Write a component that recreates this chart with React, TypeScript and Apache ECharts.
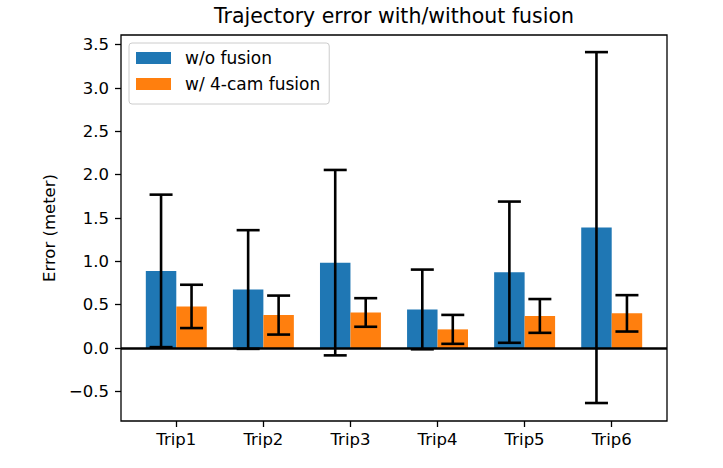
import React, { useEffect, useRef } from "react";
import * as echarts from "echarts";

const categories = ["Trip1", "Trip2", "Trip3", "Trip4", "Trip5", "Trip6"];
const woFusionMean = [0.89, 0.675, 0.985, 0.445, 0.875, 1.39];
const woFusionErr = [0.88, 0.685, 1.07, 0.46, 0.815, 2.025];
const fusionMean = [0.48, 0.38, 0.41, 0.215, 0.37, 0.4];
const fusionErr = [0.25, 0.225, 0.165, 0.167, 0.195, 0.21];
const yTicks = [-0.5, 0, 0.5, 1, 1.5, 2, 2.5, 3, 3.5];
const seriesNames = ["w/o fusion", "w/ 4-cam fusion"];

const BAR_W = 0.35;
const FONT = "DejaVu Sans";

export default function App() {
  const ref = useRef<HTMLDivElement>(null);
  useEffect(() => {
    if (!ref.current) return;
    const chart = echarts.init(ref.current, undefined, { renderer: "svg" });
    const xs = categories.map((_, i) => i);

    const barItem = (color: string) => (params: any, api: any) => {
      const x = api.value(0);
      const y = api.value(1);
      const p0 = api.coord([x - BAR_W / 2, y]);
      const p1 = api.coord([x + BAR_W / 2, 0]);
      return {
        type: "rect",
        shape: {
          x: p0[0],
          y: Math.min(p0[1], p1[1]),
          width: p1[0] - p0[0],
          height: Math.abs(p1[1] - p0[1]),
        },
        style: { fill: color },
      };
    };

    const errItem = (params: any, api: any) => {
      const x = api.value(0);
      const m = api.value(1);
      const e = api.value(2);
      const top = api.coord([x, m + e]);
      const bot = api.coord([x, m - e]);
      const cap = 11.5;
      const st = { stroke: "#000", lineWidth: 2.6 };
      return {
        type: "group",
        children: [
          { type: "line", shape: { x1: top[0], y1: top[1], x2: bot[0], y2: bot[1] }, style: st },
          { type: "line", shape: { x1: top[0] - cap, y1: top[1], x2: top[0] + cap, y2: top[1] }, style: st },
          { type: "line", shape: { x1: bot[0] - cap, y1: bot[1], x2: bot[0] + cap, y2: bot[1] }, style: st },
        ],
      };
    };

    const blueData = xs.map((i) => [i - BAR_W / 2, woFusionMean[i], woFusionErr[i]]);
    const orangeData = xs.map((i) => [i + BAR_W / 2, fusionMean[i], fusionErr[i]]);

    chart.setOption({
      animation: false,
      textStyle: { fontFamily: FONT },
      title: {
        text: "Trajectory error with/without fusion",
        left: 394,
        top: 5,
        textAlign: "center",
        padding: 0,
        textStyle: { fontFamily: FONT, fontSize: 20.5, fontWeight: "normal", color: "#000" },
      },
      legend: {
        orient: "vertical",
        left: 129,
        top: 43,
        data: seriesNames,
        icon: "rect",
        itemWidth: 35,
        itemHeight: 12,
        itemGap: 8,
        padding: [6, 9, 11, 7],
        borderColor: "#cccccc",
        borderWidth: 1,
        borderRadius: 3,
        backgroundColor: "rgba(255,255,255,0.8)",
        textStyle: { fontFamily: FONT, fontSize: 17, color: "#000", padding: [0, 0, 0, 9], lineHeight: 18 },
      },
      grid: {
        left: 121,
        top: 35,
        width: 546,
        height: 386,
        show: true,
        borderColor: "#000",
        borderWidth: 1.3,
        backgroundColor: "transparent",
      },
      xAxis: {
        type: "value",
        min: -0.635,
        max: 5.635,
        splitLine: { show: false },
        axisLine: { show: false, onZero: false },
        axisTick: { show: true, length: 6, customValues: xs, lineStyle: { color: "#000", width: 1.3 } },
        axisLabel: {
          customValues: xs,
          formatter: (v: number) => categories[Math.round(v)] ?? "",
          fontFamily: FONT,
          fontSize: 16.5,
          color: "#000",
          margin: 10,
        },
      },
      yAxis: {
        type: "value",
        min: -0.8425,
        max: 3.6125,
        name: "Error (meter)",
        nameLocation: "middle",
        nameGap: 60,
        nameTextStyle: { fontFamily: FONT, fontSize: 16.5, color: "#000" },
        splitLine: { show: false },
        axisLine: { show: false, onZero: false },
        axisTick: { show: true, length: 6, customValues: yTicks, lineStyle: { color: "#000", width: 1.3 } },
        axisLabel: {
          customValues: yTicks,
          formatter: (v: number) => (v < 0 ? "\u2212" + Math.abs(v).toFixed(1) : v.toFixed(1)),
          fontFamily: FONT,
          fontSize: 16.5,
          color: "#000",
          margin: 12,
        },
      },
      series: [
        {
          name: seriesNames[0],
          type: "custom",
          renderItem: barItem("#1f77b4"),
          itemStyle: { color: "#1f77b4" },
          data: blueData,
          encode: { x: 0, y: 1 },
          z: 2,
        },
        {
          name: seriesNames[1],
          type: "custom",
          renderItem: barItem("#ff7f0e"),
          itemStyle: { color: "#ff7f0e" },
          data: orangeData,
          encode: { x: 0, y: 1 },
          z: 2,
        },
        {
          name: "err",
          type: "custom",
          renderItem: errItem,
          data: [...blueData, ...orangeData],
          encode: { x: 0, y: 1 },
          z: 4,
          markLine: {
            silent: true,
            symbol: ["none", "none"],
            label: { show: false },
            lineStyle: { color: "#000", width: 2.6, type: "solid" },
            data: [{ yAxis: 0 }],
          },
        },
      ],
    });
    return () => chart.dispose();
  }, []);
  return (
    <div
      ref={ref}
      style={{ position: "fixed", left: 0, top: 0, width: 723, height: 468, background: "#fff" }}
    />
  );
}
